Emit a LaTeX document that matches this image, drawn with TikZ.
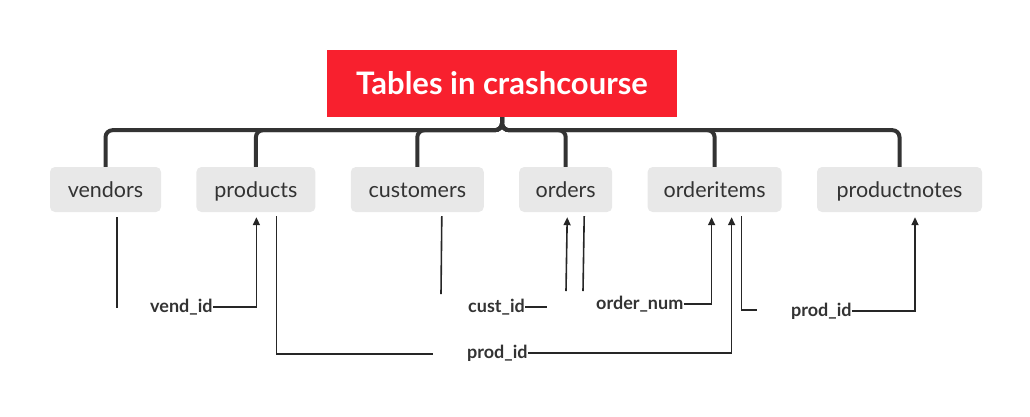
\documentclass[tikz,border=0pt]{standalone}
\usepackage{fontspec}
\setmainfont{Lato}
\usetikzlibrary{arrows.meta, positioning}
\definecolor{titlered}{HTML}{F8202E}
\definecolor{tblgray}{HTML}{E8E8E8}
\definecolor{inkgray}{HTML}{333333}
\definecolor{linkgray}{HTML}{262626}

\begin{document}
\begin{tikzpicture}[
        x=1pt, y=-1pt,
        title/.style={fill=titlered, text=white, font=\fontsize{31}{36}\selectfont\bfseries, minimum width=350pt, minimum height=67pt, inner sep=0pt},
        tbl/.style={fill=tblgray, rounded corners=5pt, text=inkgray, font=\fontsize{21.5}{25}\selectfont, minimum height=45pt, inner sep=0pt, text height=21pt, text depth=4.5pt},
        branch/.style={draw=inkgray, line width=4pt, rounded corners=7pt},
        link/.style={draw=linkgray, line width=1.6pt},
        fk/.style={link, -{Triangle[length=8pt, width=7pt]}},
        key/.style={text=inkgray, font=\fontsize{18}{21}\selectfont\bfseries, inner sep=0pt, anchor=west}
    ]
        \useasboundingbox (0,0) rectangle (1030,416);

        % --- Root and tables ---
        \node[title] (title) at (502,83.5) {Tables in crashcourse};

        \node[tbl, minimum width=111pt] (vendors) at (105.5,189.5) {vendors};
        \node[tbl, minimum width=119pt, right=35pt of vendors] (products) {products};
        \node[tbl, minimum width=133pt, right=35pt of products] (customers) {customers};
        \node[tbl, minimum width=93pt, right=35pt of customers] (orders) {orders};
        \node[tbl, minimum width=134pt, right=35pt of orders] (orderitems) {orderitems};
        \node[tbl, minimum width=165pt, right=35pt of orderitems] (productnotes) {productnotes};

        \foreach \t in {vendors, products, customers, orders, orderitems, productnotes}
            \draw[branch] (title.south) -- ++(0,13) -| (\t.north);

        % --- Keys ---
        \node[key] (vendid) at (150,307) {vend\_id};
        \node[key] (prodid) at (467,353) {prod\_id};
        \node[key] (custid) at (468,307) {cust\_id};
        \node[key] (ordnum) at (596,304) {order\_num};
        \node[key] (prodidb) at (791,311) {prod\_id};

        \coordinate (vendend) at (117,308);
        \coordinate (prodend) at (433,354);
        \coordinate (custend) at (441,294);
        \coordinate (custstub) at (547,307);
        \coordinate (ordstart) at (566,291);
        \coordinate (ordend) at (583,291);
        \coordinate (oiend) at (757,310);

        % --- Links ---
        \draw[link] ([xshift=11.5pt,yshift=-5pt]vendors.south) -- (vendend);
        \draw[fk] (vendid.east) -| ([xshift=0.5pt,yshift=-5pt]products.south);

        \draw[link] ([xshift=20.5pt,yshift=-4pt]products.south) |- (prodend);
        \draw[fk] (prodid.east) -| ([xshift=17pt,yshift=-5pt]orderitems.south);

        \draw[link] ([xshift=24.5pt,yshift=-4pt]customers.south) -- (custend);
        \draw[link] (custid.east) -- (custid.east -| custstub);

        \draw[fk] (ordstart) -- ([xshift=1.5pt,yshift=-5pt]orders.south);
        \draw[link] ([xshift=18.5pt,yshift=-4pt]orders.south) -- (ordend);

        \draw[fk] (ordnum.east) -| ([xshift=-3pt,yshift=-5pt]orderitems.south);
        \draw[link] ([xshift=27pt,yshift=-4pt]orderitems.south) |- (oiend);

        \draw[fk] (prodidb.east) -| ([xshift=15.5pt,yshift=-5pt]productnotes.south);
    \end{tikzpicture}
\end{document}
